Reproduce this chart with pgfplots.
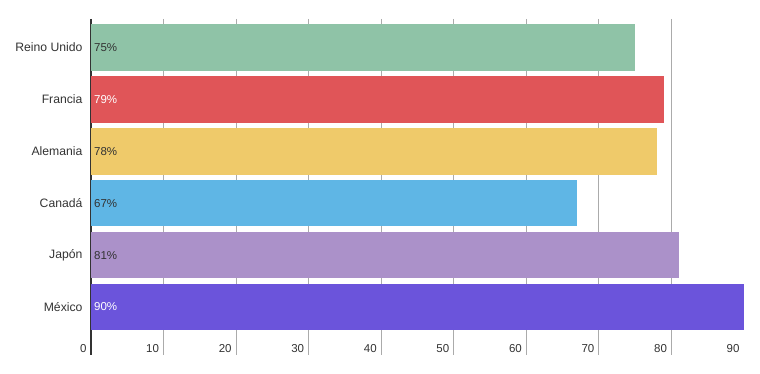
\documentclass[border=0pt]{standalone}
\usepackage{fontspec}
\setmainfont{Liberation Sans}
\usepackage{pgfplots}
\pgfplotsset{compat=1.18}
\definecolor{cUK}{HTML}{8FC3A7}
\definecolor{cFR}{HTML}{E05558}
\definecolor{cDE}{HTML}{EFCA6A}
\definecolor{cCA}{HTML}{5FB6E5}
\definecolor{cJP}{HTML}{AB91C9}
\definecolor{cMX}{HTML}{6B54DB}
\definecolor{txt}{HTML}{333333}
\begin{document}
\begin{tikzpicture}
\begin{axis}[
 at={(0pt,0pt)}, anchor=south west, scale only axis, width=653pt, height=336pt,
 xmin=0, xmax=90, ymin=-0.55, ymax=5.925, y dir=reverse,
 axis x line*=bottom, axis y line*=left,
 x axis line style={draw=none},
 y axis line style={draw=txt, line width=1.6pt},
 xtick={10,20,...,80}, extra x ticks={0,90}, extra x tick style={grid=none},
 xmajorgrids, grid style={draw=black!33, line width=0.8pt},
 major tick length=0pt,
 ytick={0,...,5}, yticklabels={Reino Unido,Francia,Alemania,Canadá,Japón,México},
 tick label style={font=\fontsize{11.5}{13}\selectfont, text=txt},
 yticklabel style={xshift=-5pt, font=\fontsize{12.2}{14}\selectfont},
 xticklabel style={anchor=base east, yshift=3pt, xshift=-1pt},
 /pgf/number format/assume math mode=true,
 clip=false,
]
\addplot[xbar, bar width=46.5pt, bar shift=0pt, fill=cUK, draw=none] coordinates {(75,0)};
\addplot[xbar, bar width=46.5pt, bar shift=0pt, fill=cFR, draw=none] coordinates {(79,1)};
\addplot[xbar, bar width=46.5pt, bar shift=0pt, fill=cDE, draw=none] coordinates {(78,2)};
\addplot[xbar, bar width=46.5pt, bar shift=0pt, fill=cCA, draw=none] coordinates {(67,3)};
\addplot[xbar, bar width=46.5pt, bar shift=0pt, fill=cJP, draw=none] coordinates {(81,4)};
\addplot[xbar, bar width=46.5pt, bar shift=0pt, fill=cMX, draw=none] coordinates {(90,5)};
\addplot[draw=none, nodes near coords, point meta=explicit symbolic,
  every node near coord/.append style={anchor=west, inner sep=0pt, xshift=3pt, text=txt, font=\fontsize{11.5}{13}\selectfont}]
  coordinates {(0,0) [75\%] (0,2) [78\%] (0,3) [67\%] (0,4) [81\%]};
\addplot[draw=none, nodes near coords, point meta=explicit symbolic,
  every node near coord/.append style={anchor=west, inner sep=0pt, xshift=3pt, text=white, font=\fontsize{11.5}{13}\selectfont}]
  coordinates {(0,1) [79\%] (0,5) [90\%]};
\end{axis}
\path (-91pt,-19pt) rectangle (669pt,355pt);
\end{tikzpicture}
\end{document}
